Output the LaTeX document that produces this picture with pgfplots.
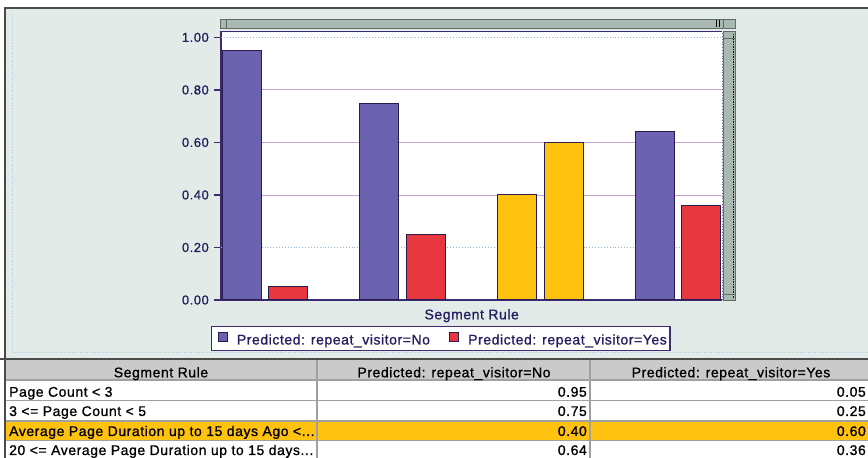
\documentclass[border=0pt]{standalone}
\usepackage{fontspec}
\setmainfont{Liberation Sans}
\newfontfamily\ui{Liberation Sans}[LetterSpace=4,FakeBold=1]
\usepackage{pgfplots}
\pgfplotsset{compat=1.18}
\definecolor{panel}{HTML}{E3EBE9}
\definecolor{bordergray}{HTML}{4A4A4A}
\definecolor{bluebar}{HTML}{6B63B0}
\definecolor{redbar}{HTML}{E8373F}
\definecolor{yellowbar}{HTML}{FFC20F}
\definecolor{outline}{HTML}{2A1B4F}
\definecolor{axiscol}{HTML}{3B2B73}
\definecolor{navytext}{HTML}{241E5E}
\definecolor{gridmauve}{HTML}{C9A3CF}
\definecolor{griddot}{HTML}{8FB8DA}
\definecolor{scroll}{HTML}{A9B8B1}
\definecolor{scrollbd}{HTML}{5F6B66}
\definecolor{headgray}{HTML}{CACACA}
\definecolor{tablegrid}{HTML}{A0A0A0}
\definecolor{highlight}{HTML}{FFC20E}
\newcommand{\uitext}{\ui\fontsize{14}{16}\selectfont}
\newcommand{\tickfont}{\ui\fontsize{13}{15}\selectfont}
\begin{document}
\begin{tikzpicture}[x=1pt,y=1pt]
\clip (0,0) rectangle (868,458);
\fill[white] (0,0) rectangle (868,458);
% chart panel
\fill[panel] (5,99) rectangle (868,450);
\draw[bordergray, line width=1.4pt] (5,99) -- (5,450) -- (868,450);
\draw[griddot!70, dotted, line width=0.6pt] (12,105) -- (12,444);
\draw[griddot!70, dotted, line width=0.6pt] (12,105.5) -- (868,105.5);
% top scrollbar
\fill[scroll] (220,429.7) rectangle (735,438.7);
\draw[scrollbd, line width=0.8pt] (220,429.7) rectangle (735,438.7);
\draw[scrollbd, line width=0.8pt] (226,429.7) -- (226,438.7);
\draw[black, line width=1pt] (716,431) -- (716,437.5);
\draw[black, line width=1pt] (719,431) -- (719,437.5);
\draw[scrollbd, line width=0.8pt] (723,429.7) -- (723,438.7);
% right scrollbar
\fill[scroll] (723,158) rectangle (735,426.3);
\draw[scrollbd, line width=0.8pt] (723,158) rectangle (735,426.3);
\draw[black, dashed, line width=0.8pt, dash pattern=on 1.5pt off 1pt] (733,160) -- (733,424);
\draw[scrollbd, line width=0.6pt] (723,420) -- (735,420);
\draw[scrollbd, line width=0.6pt] (723,164) -- (735,164);
\begin{axis}[
  at={(221pt,158pt)}, anchor=south west,
  scale only axis, width=501pt, height=268.3pt,
  xmin=-0.32, xmax=3.32, ymin=0, ymax=1.0217,
  axis lines*=left,
  axis line style={axiscol, line width=1.2pt, -},
  xtick=\empty,
  ytick={0,0.4,0.6,0.8},
  extra y ticks={0.2,1.0},
  extra y tick style={grid style={griddot, dotted, line width=1pt}},
  ymajorgrids,
  grid style={gridmauve, line width=0.9pt},
  tick style={axiscol, line width=1.2pt},
  major tick length=7pt,
  tick align=outside,
  yticklabel style={font=\tickfont, text=navytext, inner sep=2pt, xshift=-3pt},
  /pgf/number format/fixed,
  /pgf/number format/fixed zerofill,
  /pgf/number format/precision=2,
  /pgf/number format/assume math mode=true,
  axis background/.style={fill=white},
]
\addplot[ybar, bar width=39pt, bar shift=-23.35pt, fill=bluebar, draw=outline, line width=1pt]
  coordinates {(0,0.95) (1,0.75) (3,0.64)};
\addplot[ybar, bar width=39pt, bar shift=23.35pt, fill=redbar, draw=outline, line width=1pt]
  coordinates {(0,0.05) (1,0.25) (3,0.36)};
\addplot[ybar, bar width=39pt, bar shift=-23.35pt, fill=yellowbar, draw=outline, line width=1pt]
  coordinates {(2,0.40)};
\addplot[ybar, bar width=39pt, bar shift=23.35pt, fill=yellowbar, draw=outline, line width=1pt]
  coordinates {(2,0.60)};
\end{axis}
% plot frame top and right
\draw[axiscol, line width=0.8pt] (220,426.3) -- (722,426.3);
\draw[axiscol!70, dotted, line width=0.8pt] (722,158) -- (722,426.3);
% x label
\node[anchor=base, text=navytext, inner sep=0] at (471.7,138.7) {\uitext Segment Rule};
% legend
\draw[axiscol, line width=1.3pt, fill=white] (211.7,107.3) rectangle (670,131.3);
\draw[outline, line width=1pt, fill=bluebar] (218,116) rectangle (227,125);
\node[anchor=base west, text=navytext, inner sep=0] at (236.7,113.5) {\uitext Predicted: repeat\_visitor=No};
\draw[outline, line width=1pt, fill=redbar] (449,116) rectangle (458,125);
\node[anchor=base west, text=navytext, inner sep=0] at (468,113.5) {\uitext Predicted: repeat\_visitor=Yes};
% table
\draw[bordergray, line width=1.6pt] (0,99) -- (868,99);
\fill[headgray] (5,78) rectangle (868,98.2);
\fill[white] (5,57.3) rectangle (868,78);
\fill[white] (5,37) rectangle (868,57.3);
\fill[highlight] (5,17.3) rectangle (868,37);
\fill[white] (5,0) rectangle (868,17.3);
\draw[tablegrid, line width=1.2pt] (5,78) -- (868,78);
\draw[tablegrid, line width=1.2pt] (5,57.3) -- (868,57.3);
\draw[tablegrid, line width=1.2pt] (5,37) -- (868,37);
\draw[tablegrid, line width=1.2pt] (5,17.3) -- (868,17.3);
\draw[tablegrid, line width=1.2pt] (317,0) -- (317,98.2);
\draw[tablegrid, line width=1.2pt] (590,0) -- (590,98.2);
\draw[bordergray, line width=1.2pt] (5,0) -- (5,99);
% header text
\node[anchor=base, inner sep=0] at (161,80.7) {\uitext Segment Rule};
\node[anchor=base, inner sep=0] at (454,80.7) {\uitext Predicted: repeat\_visitor=No};
\node[anchor=base, inner sep=0] at (731,80.7) {\uitext Predicted: repeat\_visitor=Yes};
% rows
\node[anchor=base west, inner sep=0] at (9,61.3) {\uitext Page Count < 3};
\node[anchor=base west, inner sep=0] at (9,42) {\uitext 3 <= Page Count < 5};
\node[anchor=base west, inner sep=0] at (9,22) {\uitext Average Page Duration up to 15 days Ago <...};
\node[anchor=base west, inner sep=0] at (9,3) {\uitext 20 <= Average Page Duration up to 15 days...};
\node[anchor=base east, inner sep=0] at (587,61.3) {\uitext 0.95};
\node[anchor=base east, inner sep=0] at (587,42) {\uitext 0.75};
\node[anchor=base east, inner sep=0] at (587,22) {\uitext 0.40};
\node[anchor=base east, inner sep=0] at (587,3) {\uitext 0.64};
\node[anchor=base east, inner sep=0] at (866,61.3) {\uitext 0.05};
\node[anchor=base east, inner sep=0] at (866,42) {\uitext 0.25};
\node[anchor=base east, inner sep=0] at (866,22) {\uitext 0.60};
\node[anchor=base east, inner sep=0] at (866,3) {\uitext 0.36};
\end{tikzpicture}
\end{document}
